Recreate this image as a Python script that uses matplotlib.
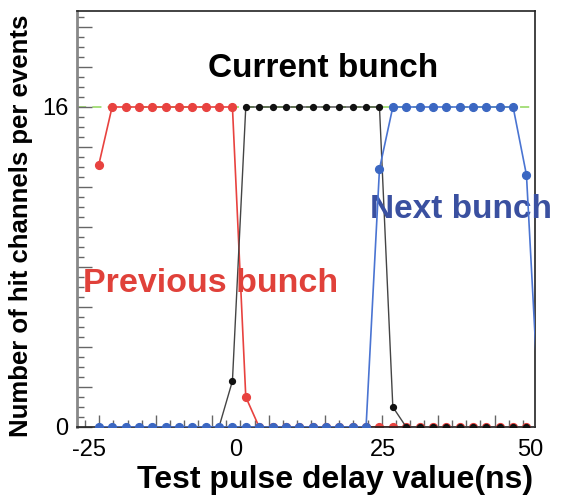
import numpy as np
import matplotlib
matplotlib.use("Agg")
import matplotlib.pyplot as plt
import matplotlib.transforms as mtransforms

plt.rcParams['font.family'] = ['Liberation Sans', 'DejaVu Sans']

# test pulse delay (ns) of each scan step
delay = [-23.30, -21.03, -18.75, -16.48, -14.21, -11.94, -9.66, -7.39, -5.12, -2.85,
         -0.57, 1.70, 3.97, 6.25, 8.52, 10.79, 13.06, 15.34, 17.61, 19.88,
         22.15, 24.43, 26.70, 28.97, 31.24, 33.52, 35.79, 38.06, 40.33, 42.61,
         44.88, 47.15, 49.42, 51.70]

previous_bunch = [13.1] + [16] * 10 + [1.5] + [0] * 22
current_bunch = [0] * 10 + [2.3] + [16] * 11 + [1.0] + [0] * 11
next_bunch = [0] * 21 + [12.9] + [16] * 10 + [12.6, 0]

n_channels = 16
x_labels = [-25, 0, 25, 50]
y_labels = [0, 16]

fig = plt.figure(figsize=(5.66, 4.95), dpi=100)
ax = fig.add_axes([0.136, 0.1374, 0.809, 0.8404])

ax.axhline(n_channels, color='#8fd65a', lw=1.1, dashes=(6, 4), zorder=1)
ax.plot(delay, previous_bunch, color='#e8423f', lw=1.2, marker='o', ms=5.6,
        mec='#e8423f', mfc='#e8423f', zorder=2)
ax.plot(delay, current_bunch, color='#444444', lw=1.0, marker='o', ms=4.2,
        mec='#111111', mfc='#111111', zorder=3)
ax.plot(delay, next_bunch, color='#4a74d2', lw=1.2, marker='o', ms=5.6,
        mec='#3b67c2', mfc='#3b67c2', zorder=4)

ax.set_xlim(-27.0, 50.85)
ax.set_ylim(0, 20.8)

# ticks (ROOT style, inside), long every 2 channels on y
ax.set_yticks(np.arange(0, 21, 2))
ax.set_yticks(np.arange(0, 20.8, 0.5), minor=True)
ax.yaxis.set_major_formatter(plt.FuncFormatter(
    lambda v, p: f"{int(v)}" if int(round(v)) in y_labels else ""))
xt = np.array([-23.2, -13.6, -4.0, 5.6, 15.2, 24.8, 34.4, 44.0])
ax.set_xticks(xt)
ax.set_xticks(np.arange(-25.6, 50.5, 2.4), minor=True)
ax.set_xticklabels([])
ax.tick_params(axis='both', which='both', direction='in', color='#666666')
ax.tick_params(axis='y', which='major', length=11, width=1, labelsize=17, pad=6)
ax.tick_params(axis='y', which='minor', length=5, width=1)
ax.tick_params(axis='x', which='major', length=9, width=1)
ax.tick_params(axis='x', which='minor', length=5, width=1)

trans = mtransforms.blended_transform_factory(ax.transData, ax.transAxes)
for v in x_labels:
    ax.text(v, -0.030, str(v), transform=trans, ha='center', va='top', fontsize=17)

ax.spines['left'].set_color('#888888')
ax.spines['left'].set_linewidth(2)
for s in ['top', 'right', 'bottom']:
    ax.spines[s].set_color('#222222')
    ax.spines[s].set_linewidth(1.2)

ax.text(0.537, 0.841, 'Current bunch', transform=ax.transAxes, ha='center',
        va='baseline', fontsize=24, fontweight='bold', color='black')
ax.text(0.013, 0.3245, 'Previous bunch', transform=ax.transAxes, ha='left',
        va='baseline', fontsize=24.5, fontweight='bold', color='#e0413a')
ax.text(0.640, 0.5024, 'Next bunch', transform=ax.transAxes, ha='left',
        va='baseline', fontsize=24, fontweight='bold', color='#3a50a0')

ax.set_ylabel('Number of hit channels per events', fontsize=18.5, fontweight='bold')
ax.yaxis.set_label_coords(-0.095, 0.483)
ax.set_xlabel('Test pulse delay value(ns)', fontsize=23, fontweight='bold')
ax.xaxis.set_label_coords(0.563, -0.092)

fig.savefig('out.png', dpi=100)
